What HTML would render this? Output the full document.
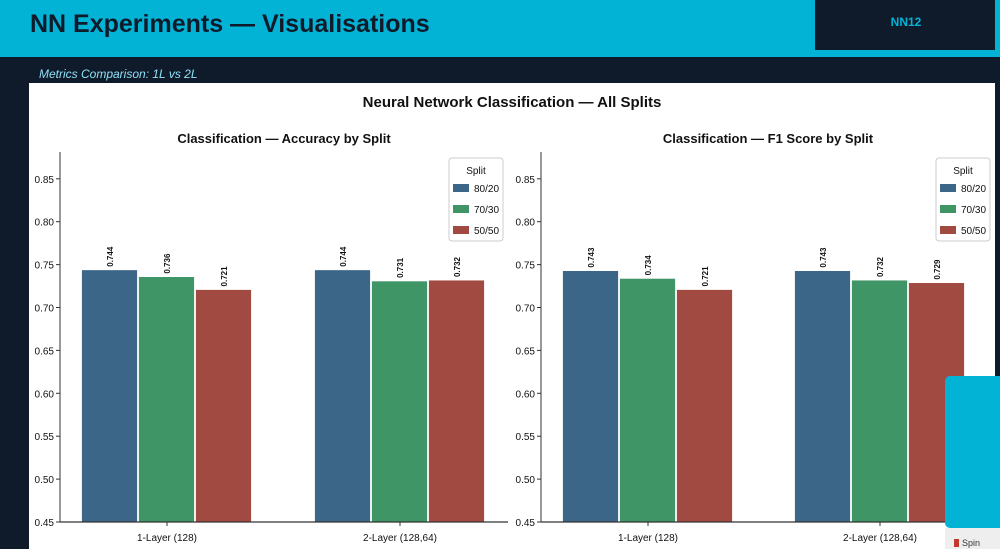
<!DOCTYPE html>
<html><head><meta charset="utf-8"><style>
body{margin:0;width:1000px;height:549px;overflow:hidden;background:#0f1b2b;font-family:"Liberation Sans",sans-serif;}
svg{display:block}
</style></head><body>
<svg width="1000" height="549" viewBox="0 0 1000 549" xmlns="http://www.w3.org/2000/svg" font-family="Liberation Sans, sans-serif">
<rect x="0" y="0" width="1000" height="549" fill="#0f1b2b"/>
<rect x="0" y="0" width="1000" height="57" fill="#02b3d6"/>
<text x="30" y="32" font-size="25" font-weight="bold" fill="#0f1b2b">NN Experiments — Visualisations</text>
<rect x="815" y="0" width="180" height="50" fill="#0f1b2b"/>
<text x="906" y="26" font-size="12" font-weight="bold" fill="#02b3d6" text-anchor="middle">NN12</text>
<rect x="0" y="57" width="4" height="492" fill="#0f1b2b"/>
<text x="39" y="78" font-size="12" font-style="italic" fill="#8fe0f5">Metrics Comparison: 1L vs 2L</text>
<rect x="29" y="83" width="966" height="466" fill="#ffffff"/>
<text x="512" y="107" font-size="15" font-weight="bold" fill="#111" text-anchor="middle">Neural Network Classification — All Splits</text>
<g id="charts"></g>
<rect x="945" y="376" width="60" height="152" rx="5" fill="#02b3d6"/>
<rect x="945" y="528" width="60" height="21" fill="#eeeeee"/>
<text x="962" y="546" font-size="9" fill="#333">Spin</text>
<rect x="954" y="539" width="5" height="8" fill="#c0392b"/>
</svg>
<script>
const categories=["1-Layer (128)","2-Layer (128,64)"];
const splits=["80/20","70/30","50/50"];
const colors=["#3b6688","#3f9566","#a04a42"];
const accuracy=[[0.744,0.736,0.721],[0.744,0.731,0.732]];
const f1=[[0.743,0.734,0.721],[0.743,0.732,0.729]];
const ticks=[0.45,0.50,0.55,0.60,0.65,0.70,0.75,0.80,0.85];
const NS="http://www.w3.org/2000/svg";
const root=document.getElementById('charts');
function mk(t,a,p){const e=document.createElementNS(NS,t);for(const k in a)e.setAttribute(k,a[k]);(p||root).appendChild(e);return e;}
function chart(x0,x1,title,data,centers,key){
  const y=v=>522-(v-0.45)/0.05*42.9;
  const g=mk('g',{});
  
  
  const t=mk('text',{x:(x0+x1)/2,y:143,'font-size':13,'font-weight':'bold','text-anchor':'middle',fill:'#111'},g);t.textContent=title;
  
  
  const bw=57;
  data.forEach((grp,ci)=>{
    grp.forEach((v,si)=>{
      const bx=centers[ci]+(si-1.5)*bw+0.5*0;
      const left=centers[ci]-1.5*bw+si*bw;
      const r=mk('rect',{x:left,y:y(v),width:bw-1,height:522-y(v),fill:colors[si],stroke:'#fff','stroke-width':0.8},g);
      
      
      const lx=left+bw/2+3,ly=y(v)-3;
      const l=mk('text',{x:lx,y:ly,'font-size':8,'font-weight':'bold',fill:'#111',transform:`rotate(-90 ${lx} ${ly})`},g);l.textContent=v.toFixed(3);
      
      
    });
    const ct=mk('text',{x:centers[ci],y:541,'font-size':10,'text-anchor':'middle',fill:'#111'},g);ct.textContent=categories[ci];
    
    
    mk('line',{x1:centers[ci],x2:centers[ci],y1:522,y2:526,stroke:'#333'},g);
  });
  mk('line',{x1:x0,x2:x0,y1:152,y2:522,stroke:'#333','stroke-width':1},g);
  mk('line',{x1:x0,x2:x1,y1:522,y2:522,stroke:'#333','stroke-width':1.2},g);
  ticks.forEach(v=>{
    mk('line',{x1:x0-4,x2:x0,y1:y(v),y2:y(v),stroke:'#333'},g);
    const tt=mk('text',{x:x0-6,y:y(v)+4,'font-size':10,'text-anchor':'end',fill:'#111'},g);tt.textContent=v.toFixed(2);
    
    
  });
  const lg=mk('g',{},g);
  
  
  const lx=x1-59;
  mk('rect',{x:lx,y:158,width:54,height:83,rx:3,fill:'#fff',stroke:'#ccc'},lg);
  const lt=mk('text',{x:lx+27,y:174,'font-size':10,'text-anchor':'middle',fill:'#111'},lg);lt.textContent='Split';
  splits.forEach((s,i)=>{
    mk('rect',{x:lx+4,y:184+i*21,width:16,height:8,fill:colors[i]},lg);
    const e=mk('text',{x:lx+25,y:192+i*21,'font-size':10,fill:'#111'},lg);e.textContent=s;
    
    
  });
}
chart(60,508,"Classification — Accuracy by Split",accuracy,[167,400],'accuracy');
chart(541,995,"Classification — F1 Score by Split",f1,[648,880],'f1');
</script>
</body></html>
